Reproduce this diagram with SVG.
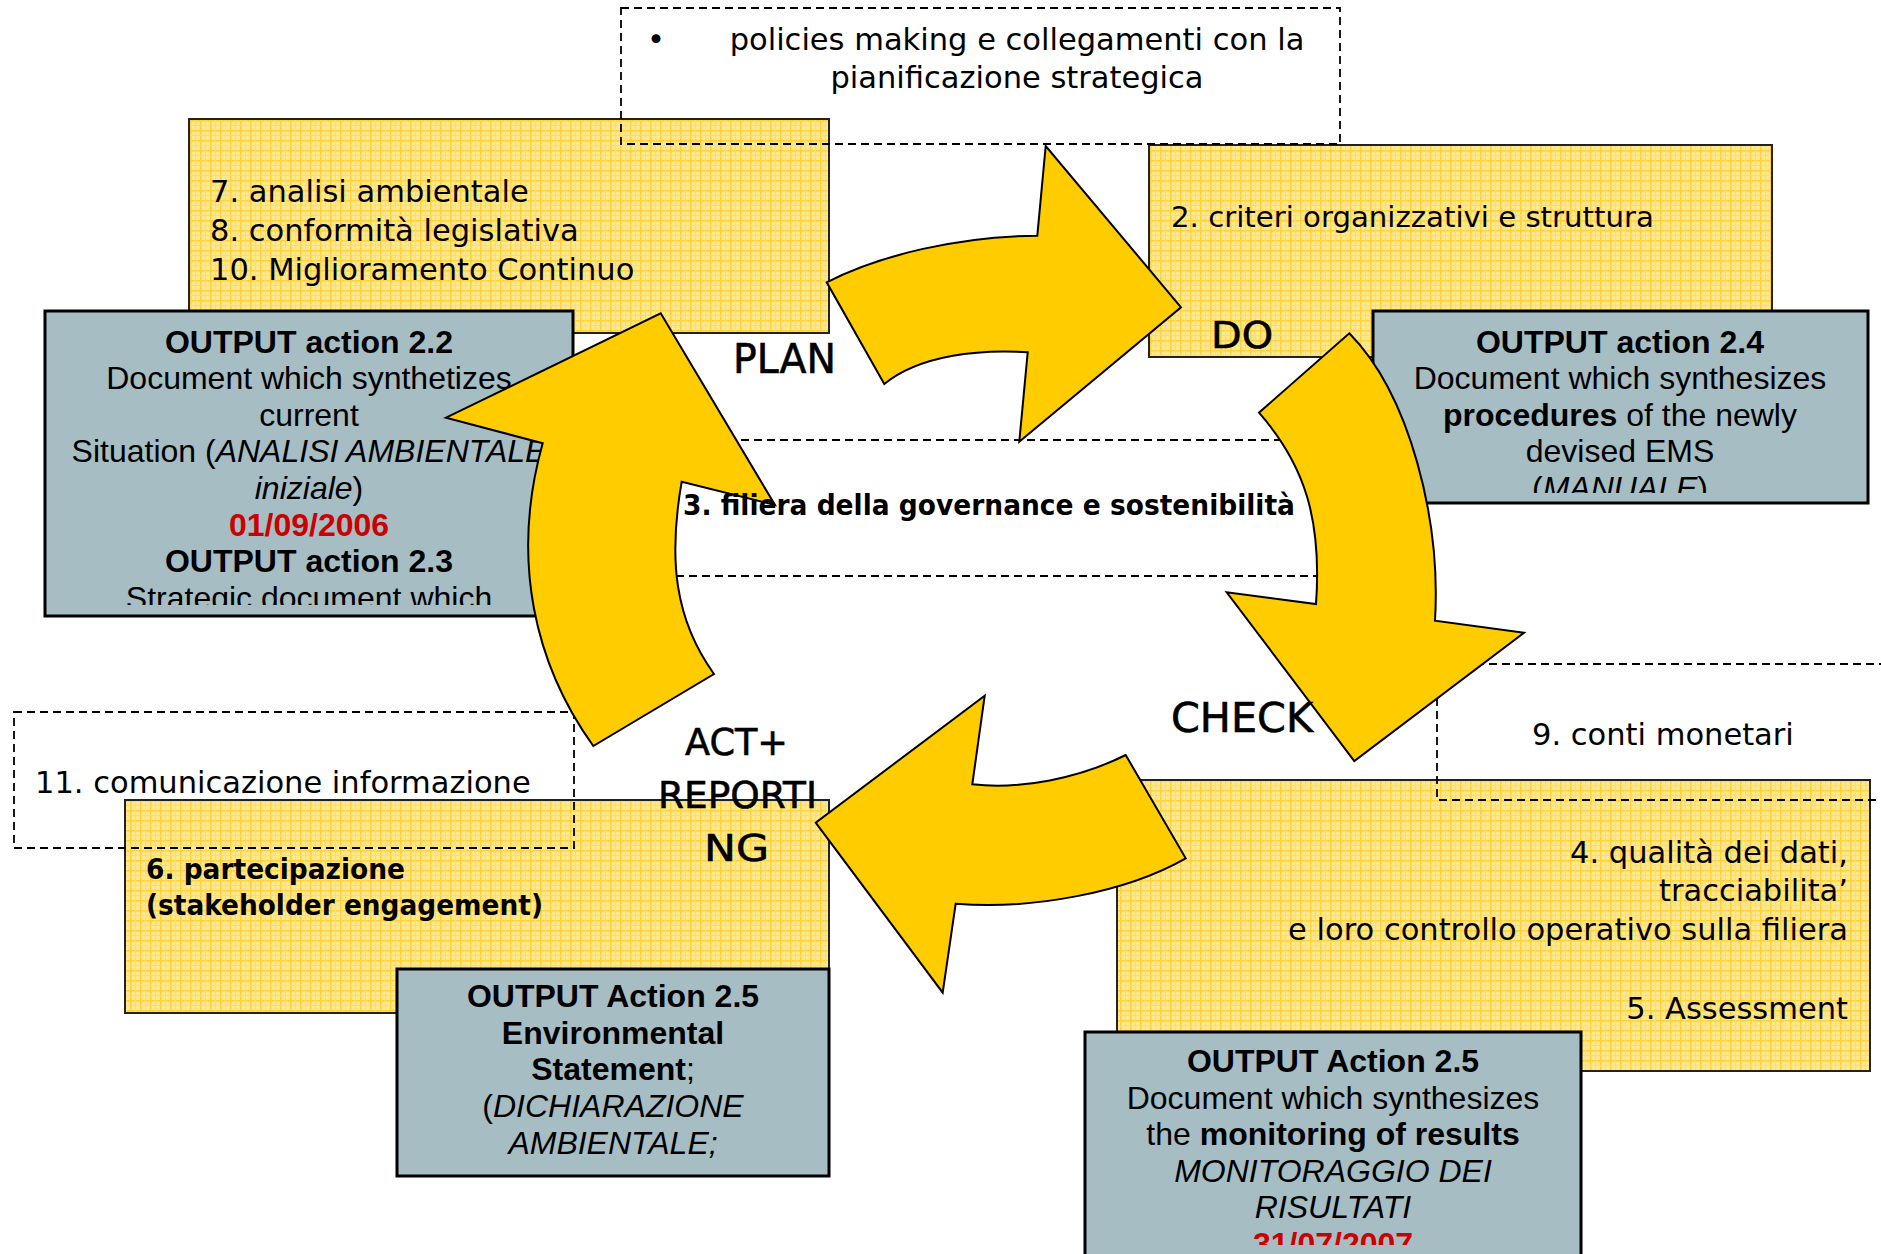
<svg xmlns="http://www.w3.org/2000/svg" width="1881" height="1254" viewBox="0 0 1881 1254">
<style>
.ybox{fill:url(#grid);stroke:#222;stroke-width:2}
.gbox{fill:#A6BDC4;stroke:#000;stroke-width:3}
.dash{fill:none;stroke:#000;stroke-width:1.8;stroke-dasharray:8 5}
.arrow{fill:#FFCC00;stroke:#000;stroke-width:2;stroke-linejoin:miter}
.t{font-family:"DejaVu Sans","Verdana",sans-serif;font-size:30.5px;fill:#000}
.tb{font-family:"DejaVu Sans","Verdana",sans-serif;font-weight:bold;fill:#000}
.tl{font-family:"DejaVu Sans","Verdana",sans-serif;fill:#000;stroke:#000;stroke-width:0.6}
.a{font-family:"Liberation Sans",Arial,sans-serif;font-size:32px;fill:#000;text-anchor:middle}
.b{font-weight:bold}
.i{font-style:italic}
.red{fill:#CC0000;font-weight:bold}
</style>
<defs>
<pattern id="grid" width="10" height="10" patternUnits="userSpaceOnUse">
<rect width="10" height="10" fill="#FFE88E"/>
<path d="M0 0.75H10M0.75 0V10" stroke="#FFD23C" stroke-width="1.5"/>
<path d="M0 5.5H10M5.5 0V10" stroke="#FFDD66" stroke-width="1"/>
</pattern>
<clipPath id="clipB"><rect x="47" y="313" width="524" height="292"/></clipPath>
<clipPath id="clipD"><rect x="1375" y="313" width="491" height="180"/></clipPath>
<clipPath id="clipF"><rect x="1087" y="1034" width="492" height="211"/></clipPath>
</defs>
<rect width="1881" height="1254" fill="#fff"/>

<g id="node-analisi">
<rect class="ybox" x="189" y="119" width="640" height="214"/>
<text class="t" x="210" y="202">7. analisi ambientale</text>
<text class="t" x="210" y="241">8. conformità legislativa</text>
<text class="t" x="210" y="280">10. Miglioramento Continuo</text>
</g>

<g id="node-criteri">
<rect class="ybox" x="1149" y="145" width="623" height="212"/>
<text class="t" x="1171" y="227" style="font-size:29.2px">2. criteri organizzativi e struttura</text>
</g>

<g id="node-qualita">
<rect class="ybox" x="1117" y="780" width="753" height="291"/>
<g text-anchor="end">
<text class="t" x="1848" y="863">4. qualità dei dati,</text>
<text class="t" x="1848" y="901">tracciabilita’</text>
<text class="t" x="1848" y="940">e loro controllo operativo sulla filiera</text>
<text class="t" x="1848" y="1019">5. Assessment</text>
</g>
</g>

<g id="node-partecipazione">
<rect class="ybox" x="125" y="800" width="704" height="213"/>
<text class="tb" x="146" y="879" font-size="28" textLength="259" lengthAdjust="spacingAndGlyphs">6. partecipazione</text>
<text class="tb" x="146" y="915" font-size="28" textLength="397" lengthAdjust="spacingAndGlyphs">(stakeholder engagement)</text>
</g>

<g id="node-output-22">
<rect class="gbox" x="45" y="311" width="528" height="305"/>
<g clip-path="url(#clipB)">
<text class="a b" x="309" y="353">OUTPUT action 2.2</text>
<text class="a" x="309" y="389">Document which synthetizes</text>
<text class="a" x="309" y="426">current</text>
<text class="a" x="309" y="462">Situation (<tspan class="i">ANALISI AMBIENTALE</tspan></text>
<text class="a" x="309" y="499"><tspan class="i">iniziale</tspan>)</text>
<text class="a red" x="309" y="536">01/09/2006</text>
<text class="a b" x="309" y="572">OUTPUT action 2.3</text>
<text class="a" x="309" y="609">Strategic document which</text>
</g>
</g>

<g id="node-output-24">
<rect class="gbox" x="1373" y="311" width="495" height="192"/>
<g clip-path="url(#clipD)">
<text class="a b" x="1620" y="353">OUTPUT action 2.4</text>
<text class="a" x="1620" y="389">Document which synthesizes</text>
<text class="a" x="1620" y="426"><tspan class="b">procedures</tspan> of the newly</text>
<text class="a" x="1620" y="462">devised EMS</text>
<text class="a" x="1620" y="499">(<tspan class="i">MANUALE</tspan>)</text>
</g>
</g>

<g id="node-output-25-monitoring">
<rect class="gbox" x="1085" y="1032" width="496" height="240"/>
<g clip-path="url(#clipF)">
<text class="a b" x="1333" y="1072">OUTPUT Action 2.5</text>
<text class="a" x="1333" y="1109">Document which synthesizes</text>
<text class="a" x="1333" y="1145">the <tspan class="b">monitoring of results</tspan></text>
<text class="a i" x="1333" y="1182">MONITORAGGIO DEI</text>
<text class="a i" x="1333" y="1218">RISULTATI</text>
<text class="a red" x="1333" y="1255">31/07/2007</text>
</g>
</g>

<g id="node-output-25-statement">
<rect class="gbox" x="397" y="969" width="432" height="207"/>
<text class="a b" x="613" y="1007">OUTPUT Action 2.5</text>
<text class="a b" x="613" y="1044">Environmental</text>
<text class="a" x="613" y="1080"><tspan class="b">Statement</tspan>;</text>
<text class="a" x="613" y="1117">(<tspan class="i">DICHIARAZIONE</tspan></text>
<text class="a i" x="613" y="1154">AMBIENTALE;</text>
</g>

<g id="node-policies">
<rect class="dash" x="621" y="8" width="719" height="136"/>
<text class="t" x="647" y="50">•</text>
<text class="t" x="1017" y="50" text-anchor="middle">policies making e collegamenti con la</text>
<text class="t" x="1017" y="88" text-anchor="middle">pianificazione strategica</text>
</g>

<g id="node-comunicazione">
<rect class="dash" x="14" y="712" width="560" height="136"/>
<text class="t" x="35" y="793">11. comunicazione informazione</text>
</g>

<g id="node-conti">
<rect class="dash" x="1437" y="664" width="470" height="136"/>
<text class="t" x="1532" y="745">9. conti monetari</text>
</g>

<g id="node-filiera">
<rect class="dash" x="650" y="440" width="690" height="136"/>
</g>

<g id="connectors">
<path id="arrow-plan-do" class="arrow" d="M826.7 282.3 C880 255 960 236 1037.3 235.7 L1045.7 146 L1181 307.3 L1019.3 441.7 L1027.7 352.3 C980 349 920 355 884.3 384 Z"/>
<path id="arrow-do-check" class="arrow" d="M1349.3 333.3 C1410 395 1441 520 1435 620.7 L1524 632.7 L1354.3 761 L1226.7 592.3 L1316 604 C1322 520 1305 465 1259 412.7 Z"/>
<path id="arrow-check-act" class="arrow" d="M1185.7 858.3 C1125 893 1030 910 955.7 903.7 L942.7 992.7 L815.7 822.7 L984.7 695.7 L972.3 784.3 C1020 790 1080 778 1125.7 755 Z"/>
<path id="arrow-act-plan" class="arrow" d="M593.3 746 C535 665 510 560 542.7 443.3 L446 417.7 L660.7 313.3 L775 505 L681.7 481.7 C668 560 675 620 714 674 Z"/>
</g>

<g id="node-filiera-label">
<text class="tb" x="683" y="515" font-size="29" textLength="612" lengthAdjust="spacingAndGlyphs">3. filiera della governance e sostenibilità</text>
</g>

<g id="phase-labels">
<text class="tl" x="733" y="373" font-size="40" textLength="103" lengthAdjust="spacingAndGlyphs">PLAN</text>
<text class="tl" x="1211" y="348" font-size="38" textLength="62" lengthAdjust="spacingAndGlyphs">DO</text>
<text class="tl" x="1171" y="732" font-size="40" textLength="142" lengthAdjust="spacingAndGlyphs">CHECK</text>
<text class="tl" x="685" y="755" font-size="38" textLength="103" lengthAdjust="spacingAndGlyphs">ACT+</text>
<text class="tl" x="658" y="808" font-size="38" textLength="159" lengthAdjust="spacingAndGlyphs">REPORTI</text>
<text class="tl" x="704" y="861" font-size="38" textLength="65" lengthAdjust="spacingAndGlyphs">NG</text>
</g>
</svg>
